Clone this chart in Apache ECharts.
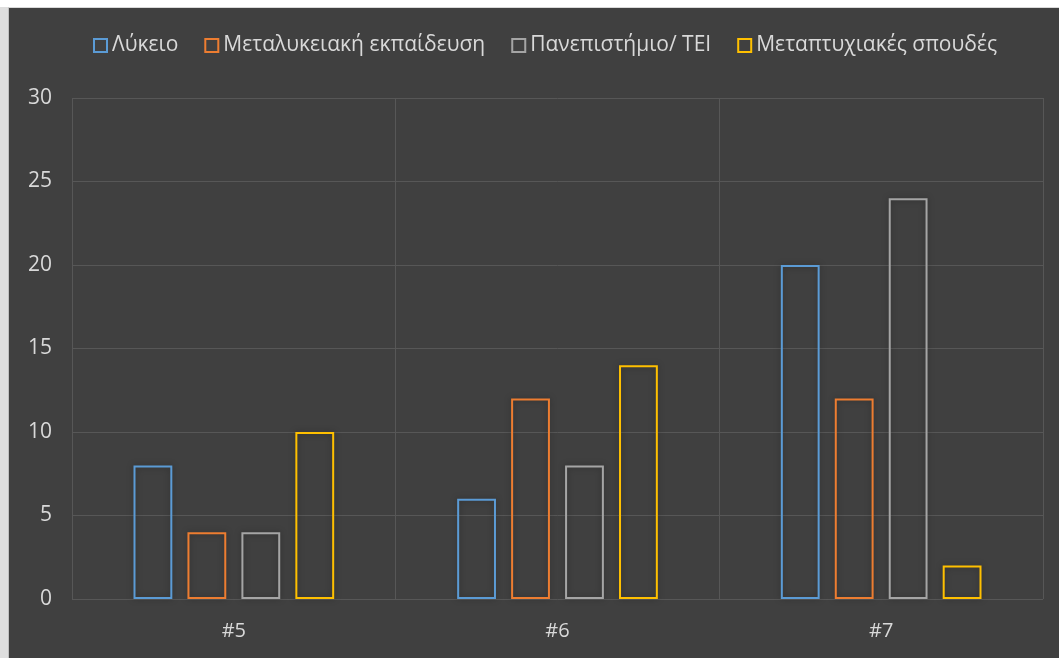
<!DOCTYPE html>
<html>
<head>
<meta charset="utf-8">
<script src="https://cdn.jsdelivr.net/npm/echarts@6/dist/echarts.min.js"></script>
<style>
  html, body { margin: 0; padding: 0; background: #ffffff; }
  #wrap { position: absolute; left: 0; top: 0; width: 1059px; height: 658px; background: #ffffff; }
  #leftStrip { position: absolute; left: 0; top: 7px; width: 8px; height: 651px; background: #dedede; }
  #EduChart { position: absolute; left: 8px; top: 7px; width: 1051px; height: 651px; background: #404040;
              border-left: 1px solid #bfbfbf; border-top: 1px solid #d9d9d9; box-sizing: border-box; }
</style>
</head>
<body>
<div id="wrap"><div id="leftStrip"></div><div id="EduChart"></div></div>
<script>
var categories = ['#5', '#6', '#7'];
var seriesNames = ['Λύκειο', 'Μεταλυκειακή εκπαίδευση', 'Πανεπιστήμιο/ ΤΕΙ', 'Μεταπτυχιακές σπουδές'];
var lykeio = [8, 6, 20];
var metalykeiaki = [4, 12, 12];
var panepistimio = [4, 8, 24];
var metaptyxiakes = [10, 14, 2];
var yTicks = [0, 5, 10, 15, 20, 25, 30];

var colors = ['#5B9BD5', '#ED7D31', '#A5A5A5', '#FFC000'];
var allData = [lykeio, metalykeiaki, panepistimio, metaptyxiakes];

function Set_Edu_echarts() {
    var dom = document.getElementById('EduChart');
    var myChart = echarts.init(dom, null, {
        renderer: 'canvas',
        useDirtyRect: false
    });

    var option;

    var series = [];
    for (var i = 0; i < seriesNames.length; i++) {
        series.push({
            name: seriesNames[i],
            type: 'bar',
            barGap: '39%',
            barCategoryGap: '38%',
            data: allData[i],
            itemStyle: {
                color: 'rgba(0,0,0,0)',
                borderColor: colors[i],
                borderWidth: 2,
                shadowColor: 'rgba(0,0,0,0.35)',
                shadowBlur: 6
            }
        });
    }

    option = {
        backgroundColor: '#404040',
        textStyle: {
            fontFamily: 'Open Sans'
        },
        legend: {
            data: seriesNames,
            top: 22,
            left: 79,
            icon: 'rect',
            itemWidth: 13,
            itemHeight: 13,
            itemGap: 26,
            textStyle: {
                color: '#d9d9d9',
                fontSize: 21,
                fontFamily: 'Open Sans'
            }
        },
        grid: {
            left: 63,
            right: 16,
            top: 90,
            bottom: 59,
            containLabel: false
        },
        xAxis: [
            {
                type: 'category',
                data: categories,
                axisLine: { show: false },
                axisTick: { show: false },
                axisLabel: {
                    color: '#d9d9d9',
                    fontSize: 20,
                    margin: 22
                },
                splitLine: {
                    show: true,
                    lineStyle: { color: '#575757', width: 1 }
                }
            }
        ],
        yAxis: [
            {
                type: 'value',
                min: yTicks[0],
                max: yTicks[yTicks.length - 1],
                interval: 5,
                axisLine: { show: false },
                axisTick: { show: false },
                axisLabel: {
                    color: '#d9d9d9',
                    fontSize: 21,
                    margin: 20
                },
                splitLine: {
                    show: true,
                    lineStyle: { color: '#575757', width: 1 }
                }
            }
        ],
        series: series
    };

    if (option && typeof option === 'object') {
        myChart.setOption(option);
    }

    window.addEventListener('resize', myChart.resize);
}

Set_Edu_echarts();
</script>
</body>
</html>
